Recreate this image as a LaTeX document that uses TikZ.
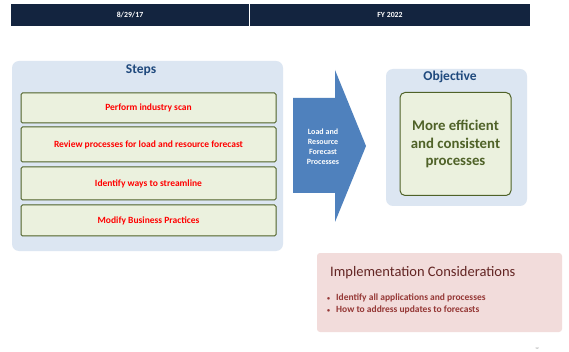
\documentclass[tikz,border=0pt]{standalone}
\usepackage{fontspec}
\setmainfont{Carlito}
\definecolor{hdr}{HTML}{13243F}
\definecolor{paleblue}{HTML}{DCE6F2}
\definecolor{darkblue}{HTML}{1F497D}
\definecolor{palegreen}{HTML}{EBF1DE}
\definecolor{olive}{HTML}{4F6228}
\definecolor{arrowblue}{HTML}{4F81BD}
\definecolor{palered}{HTML}{F2DCDB}
\definecolor{darkred}{HTML}{632523}
\definecolor{midred}{HTML}{953735}
\newcommand{\smallbul}{\raisebox{0.5pt}{\fontsize{6}{6}\selectfont•}\hspace{6pt}}
\begin{document}
\begin{tikzpicture}[x=1pt,y=-1pt,
  hdrcell/.style={fill=hdr,draw=none,text=white,font=\fontsize{7.8}{9}\selectfont\bfseries},
  panel/.style={fill=paleblue,draw=none,rounded corners=7pt},
  stepbox/.style={fill=palegreen,draw=olive,line width=1pt,rounded corners=1.5pt,text=red,font=\fontsize{9.5}{11}\selectfont\bfseries},
  paneltitle/.style={text=darkblue,font=\fontsize{13.5}{15}\selectfont\bfseries},
  bullet/.style={anchor=west,text=midred,font=\fontsize{9.5}{10}\selectfont\bfseries,inner sep=0pt}]
\useasboundingbox (0,0) rectangle (569,352);
\fill[white] (0,0) rectangle (569,352);
% header
\node[hdrcell,minimum width=238pt,minimum height=22pt,inner sep=0pt] (h1) at (130,15) {8/29/17};
\node[hdrcell,minimum width=280pt,minimum height=22pt,inner sep=0pt] (h2) at (390,15) {FY 2022};
% steps panel
\node[panel,minimum width=271pt,minimum height=190pt] (steps) at (147.5,156) {};
\node[paneltitle] (stepst) at (141,70) {Steps};
\node[stepbox,minimum width=255pt,minimum height=30pt,inner sep=0pt] (s1) at (148.5,108) {Perform industry scan};
\node[stepbox,minimum width=255pt,minimum height=35pt,inner sep=0pt] (s2) at (148.5,144.5) {Review processes for load and resource forecast};
\node[stepbox,minimum width=255pt,minimum height=33pt,inner sep=0pt] (s3) at (148.5,183.5) {Identify ways to streamline};
\node[stepbox,minimum width=255pt,minimum height=31pt,inner sep=0pt] (s4) at (148.5,220.5) {Modify Business Practices};
% arrow
\fill[arrowblue] (293,98) -- (335,98) -- (335,70) -- (366,146) -- (335,222) -- (335,193) -- (293,193) -- cycle;
\node[text=white,align=center,font=\fontsize{8}{10}\selectfont\bfseries] (arrt) at (323,146.5) {Load and\\Resource\\Forecast\\Processes};
% objective
\node[panel,minimum width=141pt,minimum height=137pt] (obj) at (456.5,137.5) {};
\node[paneltitle] (objt) at (450,77) {Objective};
\node[fill=palegreen,draw=olive,line width=1pt,rounded corners=5pt,minimum width=111pt,minimum height=103pt,inner sep=0pt,text=olive,align=center,font=\fontsize{14.8}{17.5}\selectfont\bfseries] (objb) at (455.5,144) {More efficient\\and consistent\\processes};
% implementation
\node[fill=palered,draw=none,rounded corners=3pt,minimum width=245pt,minimum height=79pt] (impl) at (439.5,292.5) {};
\node[anchor=west,text=darkred,font=\fontsize{14.5}{16}\selectfont,inner sep=0pt] (implt) at (330,273) {Implementation Considerations};
\node[bullet] (b1) at (327,298) {\smallbul Identify all applications and processes};
\node[bullet] (b2) at (327,310) {\smallbul How to address updates to forecasts};
\node[text=gray,font=\fontsize{3}{3}\selectfont] (pg) at (537,349) {12};
\end{tikzpicture}
\end{document}
